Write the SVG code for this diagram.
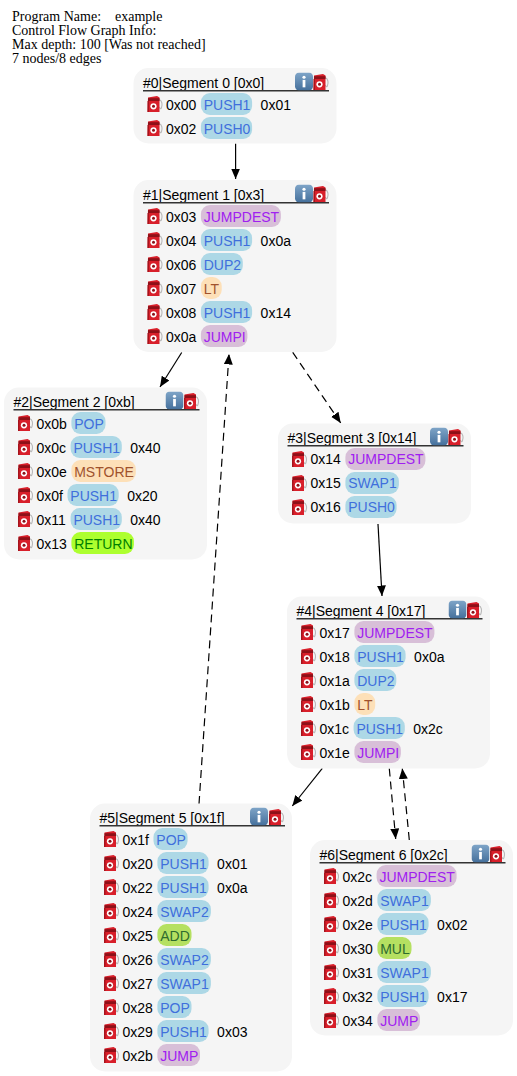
<svg xmlns="http://www.w3.org/2000/svg" width="517" height="1076" viewBox="0 0 517 1076">
<style>
text{font-family:"Liberation Sans",Arial,sans-serif;font-size:14px;fill:#000}
.info{font-family:"Liberation Serif","Times New Roman",serif;white-space:pre}
.box{fill:#f5f5f5}
.hl{stroke:#333;stroke-width:1.5}
.edge{fill:none;stroke:#000;stroke-width:1.2;marker-end:url(#arrow)}
.dash{stroke-dasharray:8 5}
.pB{fill:#add8e6}.tB{fill:#3f6fdc}
.pP{fill:#d8bfd8}.tP{fill:#a020f0}
.pO{fill:#fde0b8}.tO{fill:#a0522d}
.pG{fill:#adff2f}.tG{fill:#008000}
.pA{fill:#b5e061}.tA{fill:#2e6b2e}
</style>
<defs>
<marker id="arrow" markerUnits="userSpaceOnUse" markerWidth="11" markerHeight="10" refX="10.5" refY="4.5" orient="auto"><path d="M0,0L10.5,4.5L0,9z" fill="#000"/></marker>
<linearGradient id="ig" x1="0" y1="0" x2="0" y2="1"><stop offset="0" stop-color="#7fa5c8"/><stop offset="1" stop-color="#45709c"/></linearGradient>
<symbol id="fuel" width="15" height="16" viewBox="0 0 15 16" overflow="visible">
<path d="M11.5,3.5C14.8,4.5 15,9 14,11.5C13.4,13.5 12.4,13 12,11" fill="none" stroke="#b8b8b8" stroke-width="1.1"/>
<path d="M0.5,1.5L9.5,0L12,1.5V16H0z" fill="#d81f2a"/>
<rect x="0.5" y="2.2" width="11.5" height="2.8" fill="#8e1018"/>
<rect x="0" y="5" width="1.5" height="11" fill="#a5141d"/>
<circle cx="6" cy="10.3" r="3.1" fill="#fff"/>
<circle cx="6" cy="10.3" r="1.5" fill="#8e1018"/>
</symbol>
<symbol id="inf" width="18" height="18" viewBox="0 0 17 17">
<rect width="17" height="17" rx="4" fill="url(#ig)"/>
<rect x="7.2" y="7" width="2.6" height="7" fill="#fff"/>
<circle cx="8.5" cy="4.5" r="1.5" fill="#fff"/>
</symbol>
</defs>
<g id="title">
<text class="info" x="12" y="20.5">Program Name:    example</text>
<text class="info" x="12" y="34.5">Control Flow Graph Info:</text>
<text class="info" x="12" y="48.5">Max depth: 100 [Was not reached]</text>
<text class="info" x="12" y="62.5">7 nodes/8 edges</text>
</g>
<g id="connectors">
<path class="edge" d="M235.6,143.5L235.6,179"/>
<path class="edge" d="M181.7,352.5L160,387"/>
<path class="edge dash" d="M292.7,352.3L340.7,423"/>
<path class="edge dash" d="M199,804L229,354"/>
<path class="edge" d="M378,524L382,596"/>
<path class="edge" d="M322.3,768.3L292.3,806"/>
<path class="edge dash" d="M389.3,768.5L395.7,839"/>
<path class="edge dash" d="M409.3,840L402.3,768.5"/>
</g>
<g id="node0" transform="translate(133.5,68)">
<rect class="box" width="203" height="75.5" rx="15"/>
<text x="9.5" y="20">#0|Segment 0 [0x0]</text><line class="hl" x1="9.5" y1="22.7" x2="195.5" y2="22.7"/>
<use href="#inf" x="161.5" y="4.5"/><use href="#fuel" x="180" y="6"/>
<use href="#fuel" x="14" y="28"/><text x="32.5" y="42">0x00</text><rect class="pB" x="67.4" y="25" width="51.2" height="22" rx="9"/><text class="tB" x="70.2" y="42">PUSH1</text><text x="127.1" y="42">0x01</text>
<use href="#fuel" x="14" y="52"/><text x="32.5" y="66">0x02</text><rect class="pB" x="67.4" y="49" width="51.2" height="22" rx="9"/><text class="tB" x="70.2" y="66">PUSH0</text>
</g>
<g id="node1" transform="translate(133.5,180)">
<rect class="box" width="203" height="172" rx="15"/>
<text x="9.5" y="20">#1|Segment 1 [0x3]</text><line class="hl" x1="9.5" y1="22.7" x2="195.5" y2="22.7"/>
<use href="#inf" x="161.5" y="4.5"/><use href="#fuel" x="180" y="6"/>
<use href="#fuel" x="14" y="28"/><text x="32.5" y="42">0x03</text><rect class="pP" x="67.4" y="25" width="80" height="22" rx="9"/><text class="tP" x="70.2" y="42">JUMPDEST</text>
<use href="#fuel" x="14" y="52"/><text x="32.5" y="66">0x04</text><rect class="pB" x="67.4" y="49" width="51.2" height="22" rx="9"/><text class="tB" x="70.2" y="66">PUSH1</text><text x="127.1" y="66">0x0a</text>
<use href="#fuel" x="14" y="76"/><text x="32.5" y="90">0x06</text><rect class="pB" x="67.4" y="73" width="41.9" height="22" rx="9"/><text class="tB" x="70.2" y="90">DUP2</text>
<use href="#fuel" x="14" y="100"/><text x="32.5" y="114">0x07</text><rect class="pO" x="67.4" y="97" width="20.8" height="22" rx="9"/><text class="tO" x="70.2" y="114">LT</text>
<use href="#fuel" x="14" y="124"/><text x="32.5" y="138">0x08</text><rect class="pB" x="67.4" y="121" width="51.2" height="22" rx="9"/><text class="tB" x="70.2" y="138">PUSH1</text><text x="127.1" y="138">0x14</text>
<use href="#fuel" x="14" y="148"/><text x="32.5" y="162">0x0a</text><rect class="pP" x="67.4" y="145" width="46.5" height="22" rx="9"/><text class="tP" x="70.2" y="162">JUMPI</text>
</g>
<g id="node2" transform="translate(4,387)">
<rect class="box" y="0.5" width="203" height="172" rx="15"/>
<text x="9.5" y="20">#2|Segment 2 [0xb]</text><line class="hl" x1="9.5" y1="22.7" x2="195.5" y2="22.7"/>
<use href="#inf" x="161.5" y="4.5"/><use href="#fuel" x="180" y="6"/>
<use href="#fuel" x="14" y="28"/><text x="32.5" y="42">0x0b</text><rect class="pB" x="67.4" y="25" width="34.1" height="22" rx="9"/><text class="tB" x="70.2" y="42">POP</text>
<use href="#fuel" x="14" y="52"/><text x="32.5" y="66">0x0c</text><rect class="pB" x="66.6" y="49" width="51.2" height="22" rx="9"/><text class="tB" x="69.4" y="66">PUSH1</text><text x="126.3" y="66">0x40</text>
<use href="#fuel" x="14" y="76"/><text x="32.5" y="90">0x0e</text><rect class="pO" x="67.4" y="73" width="64.4" height="22" rx="9"/><text class="tO" x="70.2" y="90">MSTORE</text>
<use href="#fuel" x="14" y="100"/><text x="32.5" y="114">0x0f</text><rect class="pB" x="63.5" y="97" width="51.2" height="22" rx="9"/><text class="tB" x="66.3" y="114">PUSH1</text><text x="123.2" y="114">0x20</text>
<use href="#fuel" x="14" y="124"/><text x="32.5" y="138">0x11</text><rect class="pB" x="66.6" y="121" width="51.2" height="22" rx="9"/><text class="tB" x="69.4" y="138">PUSH1</text><text x="126.3" y="138">0x40</text>
<use href="#fuel" x="14" y="148"/><text x="32.5" y="162">0x13</text><rect class="pG" x="67.4" y="145" width="62.5" height="22" rx="9"/><text class="tG" x="70.2" y="162">RETURN</text>
</g>
<g id="node3" transform="translate(278,423)">
<rect class="box" y="0.5" width="193" height="100" rx="15"/>
<text x="9.5" y="20">#3|Segment 3 [0x14]</text><line class="hl" x1="9.5" y1="22.7" x2="185.5" y2="22.7"/>
<use href="#inf" x="152" y="4.5"/><use href="#fuel" x="170.5" y="6"/>
<use href="#fuel" x="14" y="28"/><text x="32.5" y="41">0x14</text><rect class="pP" x="67.4" y="25" width="80" height="22" rx="9"/><text class="tP" x="70.2" y="41">JUMPDEST</text>
<use href="#fuel" x="14" y="52"/><text x="32.5" y="65">0x15</text><rect class="pB" x="67.4" y="49" width="53.5" height="22" rx="9"/><text class="tB" x="70.2" y="65">SWAP1</text>
<use href="#fuel" x="14" y="76"/><text x="32.5" y="89">0x16</text><rect class="pB" x="67.4" y="73" width="51.2" height="22" rx="9"/><text class="tB" x="70.2" y="89">PUSH0</text>
</g>
<g id="node4" transform="translate(287,596)">
<rect class="box" y="0.5" width="203" height="172" rx="15"/>
<text x="9.5" y="20">#4|Segment 4 [0x17]</text><line class="hl" x1="9.5" y1="22.7" x2="195.5" y2="22.7"/>
<use href="#inf" x="161.5" y="4.5"/><use href="#fuel" x="180" y="6"/>
<use href="#fuel" x="14" y="28"/><text x="32.5" y="42">0x17</text><rect class="pP" x="67.4" y="25" width="80" height="22" rx="9"/><text class="tP" x="70.2" y="42">JUMPDEST</text>
<use href="#fuel" x="14" y="52"/><text x="32.5" y="66">0x18</text><rect class="pB" x="67.4" y="49" width="51.2" height="22" rx="9"/><text class="tB" x="70.2" y="66">PUSH1</text><text x="127.1" y="66">0x0a</text>
<use href="#fuel" x="14" y="76"/><text x="32.5" y="90">0x1a</text><rect class="pB" x="67.4" y="73" width="41.9" height="22" rx="9"/><text class="tB" x="70.2" y="90">DUP2</text>
<use href="#fuel" x="14" y="100"/><text x="32.5" y="114">0x1b</text><rect class="pO" x="67.4" y="97" width="20.8" height="22" rx="9"/><text class="tO" x="70.2" y="114">LT</text>
<use href="#fuel" x="14" y="124"/><text x="32.5" y="138">0x1c</text><rect class="pB" x="66.6" y="121" width="51.2" height="22" rx="9"/><text class="tB" x="69.4" y="138">PUSH1</text><text x="126.3" y="138">0x2c</text>
<use href="#fuel" x="14" y="148"/><text x="32.5" y="162">0x1e</text><rect class="pP" x="67.4" y="145" width="46.5" height="22" rx="9"/><text class="tP" x="70.2" y="162">JUMPI</text>
</g>
<g id="node5" transform="translate(90,803)">
<rect class="box" y="0.5" width="202" height="268" rx="15"/>
<text x="9.5" y="20">#5|Segment 5 [0x1f]</text><line class="hl" x1="9.5" y1="22.7" x2="195" y2="22.7"/>
<use href="#inf" x="160" y="4.5"/><use href="#fuel" x="179" y="6"/>
<use href="#fuel" x="14" y="28"/><text x="32.5" y="42">0x1f</text><rect class="pB" x="63.5" y="25" width="34.1" height="22" rx="9"/><text class="tB" x="66.3" y="42">POP</text>
<use href="#fuel" x="14" y="52"/><text x="32.5" y="66">0x20</text><rect class="pB" x="67.4" y="49" width="51.2" height="22" rx="9"/><text class="tB" x="70.2" y="66">PUSH1</text><text x="127.1" y="66">0x01</text>
<use href="#fuel" x="14" y="76"/><text x="32.5" y="90">0x22</text><rect class="pB" x="67.4" y="73" width="51.2" height="22" rx="9"/><text class="tB" x="70.2" y="90">PUSH1</text><text x="127.1" y="90">0x0a</text>
<use href="#fuel" x="14" y="100"/><text x="32.5" y="114">0x24</text><rect class="pB" x="67.4" y="97" width="53.5" height="22" rx="9"/><text class="tB" x="70.2" y="114">SWAP2</text>
<use href="#fuel" x="14" y="124"/><text x="32.5" y="138">0x25</text><rect class="pA" x="67.4" y="121" width="34.1" height="22" rx="9"/><text class="tA" x="70.2" y="138">ADD</text>
<use href="#fuel" x="14" y="148"/><text x="32.5" y="162">0x26</text><rect class="pB" x="67.4" y="145" width="53.5" height="22" rx="9"/><text class="tB" x="70.2" y="162">SWAP2</text>
<use href="#fuel" x="14" y="172"/><text x="32.5" y="186">0x27</text><rect class="pB" x="67.4" y="169" width="53.5" height="22" rx="9"/><text class="tB" x="70.2" y="186">SWAP1</text>
<use href="#fuel" x="14" y="196"/><text x="32.5" y="210">0x28</text><rect class="pB" x="67.4" y="193" width="34.1" height="22" rx="9"/><text class="tB" x="70.2" y="210">POP</text>
<use href="#fuel" x="14" y="220"/><text x="32.5" y="234">0x29</text><rect class="pB" x="67.4" y="217" width="51.2" height="22" rx="9"/><text class="tB" x="70.2" y="234">PUSH1</text><text x="127.1" y="234">0x03</text>
<use href="#fuel" x="14" y="244"/><text x="32.5" y="258">0x2b</text><rect class="pP" x="67.4" y="241" width="42.6" height="22" rx="9"/><text class="tP" x="70.2" y="258">JUMP</text>
</g>
<g id="node6" transform="translate(310,840)">
<rect class="box" width="203" height="195.5" rx="15"/>
<text x="9.5" y="20">#6|Segment 6 [0x2c]</text><line class="hl" x1="9.5" y1="22.7" x2="195.5" y2="22.7"/>
<use href="#inf" x="161.5" y="4.5"/><use href="#fuel" x="180" y="6"/>
<use href="#fuel" x="14" y="28"/><text x="32.5" y="42">0x2c</text><rect class="pP" x="66.6" y="25" width="80" height="22" rx="9"/><text class="tP" x="69.4" y="42">JUMPDEST</text>
<use href="#fuel" x="14" y="52"/><text x="32.5" y="66">0x2d</text><rect class="pB" x="67.4" y="49" width="53.5" height="22" rx="9"/><text class="tB" x="70.2" y="66">SWAP1</text>
<use href="#fuel" x="14" y="76"/><text x="32.5" y="90">0x2e</text><rect class="pB" x="67.4" y="73" width="51.2" height="22" rx="9"/><text class="tB" x="70.2" y="90">PUSH1</text><text x="127.1" y="90">0x02</text>
<use href="#fuel" x="14" y="100"/><text x="32.5" y="114">0x30</text><rect class="pA" x="67.4" y="97" width="34.1" height="22" rx="9"/><text class="tA" x="70.2" y="114">MUL</text>
<use href="#fuel" x="14" y="124"/><text x="32.5" y="138">0x31</text><rect class="pB" x="67.4" y="121" width="53.5" height="22" rx="9"/><text class="tB" x="70.2" y="138">SWAP1</text>
<use href="#fuel" x="14" y="148"/><text x="32.5" y="162">0x32</text><rect class="pB" x="67.4" y="145" width="51.2" height="22" rx="9"/><text class="tB" x="70.2" y="162">PUSH1</text><text x="127.1" y="162">0x17</text>
<use href="#fuel" x="14" y="172"/><text x="32.5" y="186">0x34</text><rect class="pP" x="67.4" y="169" width="42.6" height="22" rx="9"/><text class="tP" x="70.2" y="186">JUMP</text>
</g>
</svg>
